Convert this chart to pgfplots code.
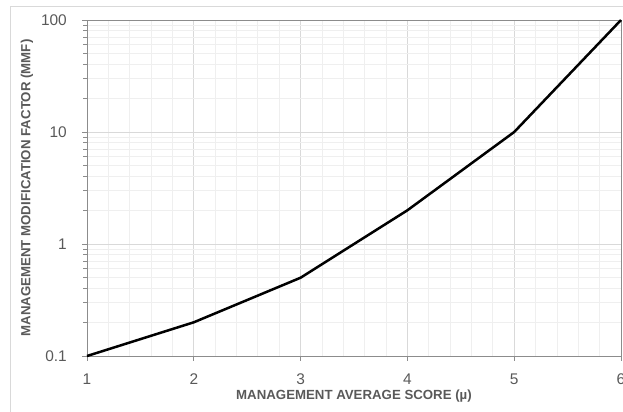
\documentclass[border=0pt]{standalone}
\usepackage{pgfplots}
\pgfplotsset{compat=1.18}
\usepackage{fontspec}
\setmainfont{Liberation Sans}

\definecolor{txtgray}{HTML}{595959}
\definecolor{spinegray}{HTML}{8C8C8C}
\definecolor{majgrid}{HTML}{D9D9D9}
\definecolor{mingrid}{HTML}{EFEFEF}
\definecolor{framegray}{HTML}{D9D9D9}

\begin{document}
\begin{tikzpicture}[x=1bp,y=1bp]
  % page area and outer chart frame (top and left edges show)
  \path[use as bounding box] (0,0) rectangle (623,411);
  \draw[framegray, line width=0.8bp] (10.5,-20) -- (10.5,404.5) -- (700,404.5);

  \begin{axis}[
    at={(87bp,55bp)}, anchor=south west,
    scale only axis, width=534bp, height=336bp,
    xmin=1, xmax=6, ymin=0.1, ymax=100,
    ymode=log, log basis y=10,
    xtick={1,2,3,4,5,6},
    minor xtick={1.2,1.4,1.6,1.8,2.2,2.4,2.6,2.8,3.2,3.4,3.6,3.8,4.2,4.4,4.6,4.8,5.2,5.4,5.6,5.8},
    ytick={0.1,1,10,100},
    yticklabels={0.1,1,10,100},
    minor ytick={0.2,0.3,0.4,0.5,0.6,0.7,0.8,0.9,2,3,4,5,6,7,8,9,20,30,40,50,60,70,80,90},
    /pgf/number format/assume math mode=true,
    grid=both,
    major grid style={majgrid, line width=0.8bp},
    minor grid style={mingrid, line width=0.8bp},
    axis line style={spinegray, line width=0.9bp},
    tick align=outside,
    tick style={spinegray, line width=0.8bp},
    major tick length=5bp, minor tick length=4bp,
    xtick pos=bottom, ytick pos=left,
    every minor x tick/.style={draw=none},
    tick label style={font=\fontsize{15.5}{17}\selectfont, text=txtgray},
    yticklabel style={anchor=east, inner sep=0pt, xshift=-15bp},
    xticklabel style={anchor=north, inner sep=0pt, yshift=-13bp},
    xlabel={MANAGEMENT AVERAGE SCORE (\textmu)},
    ylabel={MANAGEMENT MODIFICATION FACTOR (MMF)},
    every axis x label/.style={at={(axis description cs:0.5,-0.119)}, anchor=center,
      font=\bfseries\fontsize{13.3}{15}\selectfont, text=txtgray},
    every axis y label/.style={at={(axis description cs:-0.1124,0.5)}, anchor=center, rotate=90,
      font=\bfseries\fontsize{13.3}{15}\selectfont, text=txtgray},
    clip=false,
  ]
    \addplot[black, line width=2.5bp, line join=round] coordinates {
      (1,0.1) (2,0.2) (3,0.5) (4,2) (5,10) (6,100)
    };
  \end{axis}
\end{tikzpicture}
\end{document}
